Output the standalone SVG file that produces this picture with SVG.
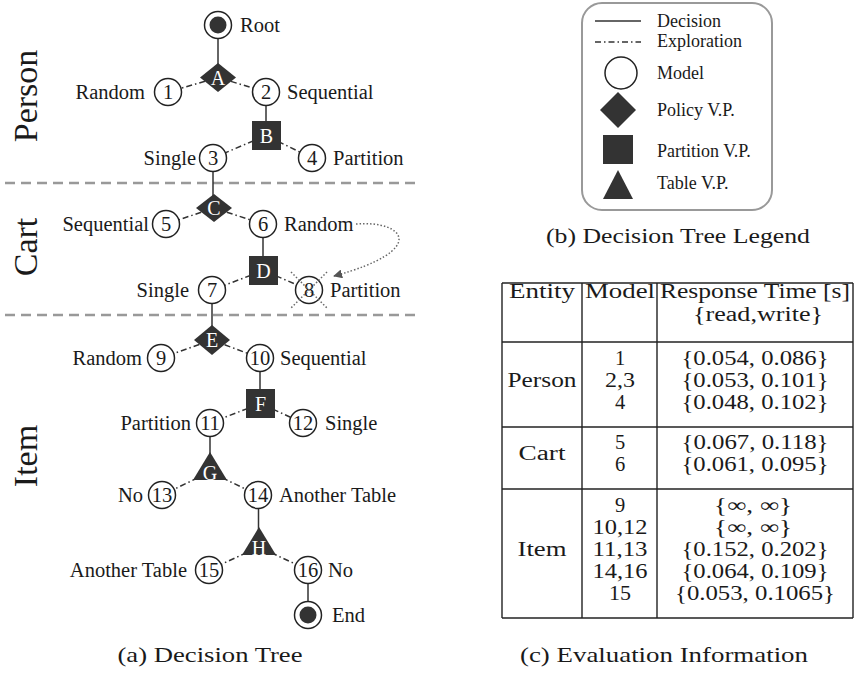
<svg xmlns="http://www.w3.org/2000/svg" width="855" height="676" viewBox="0 0 855 676">
<defs>
<style>
.lbl{font-family:"Liberation Serif","Times New Roman",serif;font-size:20.5px;fill:#1a1a1a}
.s{text-anchor:start}.e{text-anchor:end}.m{text-anchor:middle}
.in{font-family:"Liberation Serif","Times New Roman",serif;font-size:20px;fill:#fff;text-anchor:middle}
.circ{fill:#fff;stroke:#222;stroke-width:1.5}
.dark{fill:#333}
.dd{stroke:#333;stroke-width:1.5;stroke-dasharray:6 3 1.5 3;fill:none}
.sol{stroke:#333;stroke-width:1.5;fill:none}
.sep{stroke:#999;stroke-width:2.5;stroke-dasharray:10 6;fill:none}
.dot{stroke:#666;stroke-width:1.5;stroke-dasharray:1.5 2;fill:none}
.ent{font-family:"Liberation Serif","Times New Roman",serif;font-size:34px;fill:#1a1a1a;text-anchor:middle}
.leg{font-family:"Liberation Serif","Times New Roman",serif;font-size:18px;fill:#1a1a1a}
.tb{font-family:"Liberation Serif","Times New Roman",serif;font-size:20.5px;fill:#1a1a1a;text-anchor:middle}
.cap{font-family:"Liberation Serif","Times New Roman",serif;font-size:22px;fill:#1a1a1a;text-anchor:middle}
.tl{stroke:#222;stroke-width:1.4;fill:none}
</style>
<marker id="ah" viewBox="0 0 10 10" refX="9" refY="5" markerWidth="9" markerHeight="9" markerUnits="userSpaceOnUse" orient="auto">
<path d="M0,0 L10,5 L0,10 z" fill="#555"/>
</marker>
</defs>
<rect width="855" height="676" fill="#fff"/>

<!-- separators and entity labels -->
<g id="separators">
<line class="sep" x1="5" y1="183" x2="415" y2="183"/>
<line class="sep" x1="5" y1="315" x2="415" y2="315"/>
</g>
<g id="entity-labels">
<text class="ent" transform="translate(37,96) rotate(-90)">Person</text>
<text class="ent" transform="translate(37,247) rotate(-90)">Cart</text>
<text class="ent" transform="translate(37,456) rotate(-90)">Item</text>
</g>

<!-- connectors -->
<g id="connectors">
<line class="sol" x1="218" y1="25" x2="218" y2="77"/>
<line class="dd" x1="218" y1="77.5" x2="168" y2="92"/>
<line class="dd" x1="218" y1="77.5" x2="266" y2="92"/>
<line class="sol" x1="266" y1="92" x2="266" y2="135"/>
<line class="dd" x1="266" y1="135.5" x2="213" y2="158"/>
<line class="dd" x1="266" y1="135.5" x2="312" y2="158"/>
<line class="sol" x1="213" y1="158" x2="213" y2="208"/>
<line class="dd" x1="214" y1="208" x2="166" y2="224"/>
<line class="dd" x1="214" y1="208" x2="263" y2="224"/>
<line class="sol" x1="263" y1="224" x2="263" y2="270"/>
<line class="dd" x1="263.5" y1="270.5" x2="212" y2="290"/>
<line class="dd" x1="263.5" y1="270.5" x2="309" y2="290"/>
<line class="sol" x1="212" y1="290" x2="212" y2="340"/>
<line class="dd" x1="212" y1="340" x2="161" y2="358"/>
<line class="dd" x1="212" y1="340" x2="260" y2="358"/>
<line class="sol" x1="260" y1="358" x2="260" y2="403"/>
<line class="dd" x1="260.5" y1="403.5" x2="210" y2="423"/>
<line class="dd" x1="260.5" y1="403.5" x2="303" y2="423"/>
<line class="sol" x1="210" y1="423" x2="210" y2="470"/>
<line class="dd" x1="210" y1="472" x2="162" y2="495"/>
<line class="dd" x1="210" y1="472" x2="258" y2="495"/>
<line class="sol" x1="258.5" y1="495" x2="258.5" y2="545"/>
<line class="dd" x1="259" y1="547" x2="209" y2="570"/>
<line class="dd" x1="259" y1="547" x2="308" y2="570"/>
<line class="sol" x1="308" y1="570" x2="308" y2="615"/>
<path class="dot" d="M356,224 C404,220 430,250 334,276" marker-end="url(#ah)"/>
</g>

<!-- nodes -->
<g id="root"><circle class="circ" cx="218" cy="25" r="13.5"/><circle class="dark" cx="218" cy="25" r="8.5"/><text class="lbl s" x="240" y="32">Root</text></g>
<g id="vpA"><polygon class="dark" points="218,63 236,77.5 218,92 200,77.5"/><text class="in" x="218" y="84.5">A</text></g>
<g id="m1"><circle class="circ" cx="168" cy="92" r="13.5"/><text class="lbl m" x="168" y="99">1</text><text class="lbl e" x="145" y="99">Random</text></g>
<g id="m2"><circle class="circ" cx="266" cy="92" r="13.5"/><text class="lbl m" x="266" y="99">2</text><text class="lbl s" x="287" y="99">Sequential</text></g>
<g id="vpB"><rect class="dark" x="252" y="121" width="29" height="29"/><text class="in" x="266.5" y="142.5">B</text></g>
<g id="m3"><circle class="circ" cx="213" cy="158" r="13.5"/><text class="lbl m" x="213" y="165">3</text><text class="lbl e" x="196" y="165">Single</text></g>
<g id="m4"><circle class="circ" cx="312" cy="158" r="13.5"/><text class="lbl m" x="312" y="165">4</text><text class="lbl s" x="333" y="165">Partition</text></g>
<g id="vpC"><polygon class="dark" points="214,194 232,208 214,222 196,208"/><text class="in" x="214" y="215">C</text></g>
<g id="m5"><circle class="circ" cx="166" cy="224" r="13.5"/><text class="lbl m" x="166" y="231">5</text><text class="lbl e" x="149" y="231">Sequential</text></g>
<g id="m6"><circle class="circ" cx="263" cy="224" r="13.5"/><text class="lbl m" x="263" y="231">6</text><text class="lbl s" x="284" y="231">Random</text></g>
<g id="vpD"><rect class="dark" x="249" y="256" width="29" height="29"/><text class="in" x="263.5" y="277.5">D</text></g>
<g id="m7"><circle class="circ" cx="212" cy="290" r="13.5"/><text class="lbl m" x="212" y="297">7</text><text class="lbl e" x="189" y="297">Single</text></g>
<g id="m8"><circle class="circ" cx="309" cy="290" r="13.5"/><text class="lbl m" x="309" y="297">8</text><text class="lbl s" x="330" y="297">Partition</text>
<line class="dot" x1="291" y1="272" x2="327" y2="308"/><line class="dot" x1="327" y1="272" x2="291" y2="308"/></g>
<g id="vpE"><polygon class="dark" points="212,325 230,340 212,355 194,340"/><text class="in" x="212" y="347">E</text></g>
<g id="m9"><circle class="circ" cx="161" cy="358" r="13.5"/><text class="lbl m" x="161" y="365">9</text><text class="lbl e" x="142" y="365">Random</text></g>
<g id="m10"><circle class="circ" cx="260" cy="358" r="13.5"/><text class="lbl m" x="260" y="365">10</text><text class="lbl s" x="280" y="365">Sequential</text></g>
<g id="vpF"><rect class="dark" x="246" y="389" width="29" height="29"/><text class="in" x="260.5" y="410.5">F</text></g>
<g id="m11"><circle class="circ" cx="210" cy="423" r="13.5"/><text class="lbl m" x="210" y="430">11</text><text class="lbl e" x="191" y="430">Partition</text></g>
<g id="m12"><circle class="circ" cx="303" cy="423" r="13.5"/><text class="lbl m" x="303" y="430">12</text><text class="lbl s" x="325" y="430">Single</text></g>
<g id="vpG"><polygon class="dark" points="210,452 227,480 193,480"/><text class="in" x="210" y="480">G</text></g>
<g id="m13"><circle class="circ" cx="162" cy="495" r="13.5"/><text class="lbl m" x="162" y="502">13</text><text class="lbl e" x="143" y="502">No</text></g>
<g id="m14"><circle class="circ" cx="258" cy="495" r="13.5"/><text class="lbl m" x="258" y="502">14</text><text class="lbl s" x="279" y="502">Another Table</text></g>
<g id="vpH"><polygon class="dark" points="259,527 276,555 242,555"/><text class="in" x="259" y="555">H</text></g>
<g id="m15"><circle class="circ" cx="209" cy="570" r="13.5"/><text class="lbl m" x="209" y="577">15</text><text class="lbl e" x="187" y="577">Another Table</text></g>
<g id="m16"><circle class="circ" cx="308" cy="570" r="13.5"/><text class="lbl m" x="308" y="577">16</text><text class="lbl s" x="328" y="577">No</text></g>
<g id="end"><circle class="circ" cx="308" cy="615" r="13.5"/><circle class="dark" cx="308" cy="615" r="8.5"/><text class="lbl s" x="332" y="622">End</text></g>
<text class="cap" x="210" y="662" textLength="185" lengthAdjust="spacingAndGlyphs">(a) Decision Tree</text>

<!-- legend -->
<g id="legend">
<rect x="582" y="3" width="190" height="207" rx="20" ry="20" fill="#fff" stroke="#999" stroke-width="2"/>
<line class="sol" x1="595" y1="21" x2="641" y2="21"/>
<text class="leg" x="657" y="27">Decision</text>
<line class="dd" x1="595" y1="42" x2="641" y2="42"/>
<text class="leg" x="657" y="47">Exploration</text>
<circle class="circ" cx="621" cy="73" r="16"/>
<text class="leg" x="657" y="79">Model</text>
<polygon class="dark" points="618,92 636,110 618,128 600,110"/>
<text class="leg" x="657" y="116">Policy V.P.</text>
<rect class="dark" x="603" y="135" width="30" height="29"/>
<text class="leg" x="657" y="157">Partition V.P.</text>
<polygon class="dark" points="618,170 633,199 603,199"/>
<text class="leg" x="657" y="189">Table V.P.</text>
</g>
<text class="cap" x="678" y="243" textLength="264" lengthAdjust="spacingAndGlyphs">(b) Decision Tree Legend</text>

<!-- table -->
<g id="table">
<line class="tl" x1="502" y1="283" x2="853" y2="283"/>
<line class="tl" x1="502" y1="342" x2="853" y2="342"/>
<line class="tl" x1="502" y1="427" x2="853" y2="427"/>
<line class="tl" x1="502" y1="489" x2="853" y2="489"/>
<line class="tl" x1="502" y1="618" x2="853" y2="618"/>
<line class="tl" x1="502" y1="283" x2="502" y2="618"/>
<line class="tl" x1="582" y1="283" x2="582" y2="618"/>
<line class="tl" x1="657" y1="283" x2="657" y2="618"/>
<line class="tl" x1="853" y1="283" x2="853" y2="618"/>
<text class="tb" x="542" y="298" textLength="66" lengthAdjust="spacingAndGlyphs">Entity</text>
<text class="tb" x="620" y="298" textLength="70" lengthAdjust="spacingAndGlyphs">Model</text>
<text class="tb" x="755" y="298" textLength="190" lengthAdjust="spacingAndGlyphs">Response Time [s]</text>
<text class="tb" x="758" y="321" textLength="130" lengthAdjust="spacingAndGlyphs">{read,write}</text>
<text class="tb" x="542" y="387" textLength="69" lengthAdjust="spacingAndGlyphs">Person</text>
<text class="tb" x="620" y="365">1</text>
<text class="tb" x="620" y="387" textLength="30" lengthAdjust="spacingAndGlyphs">2,3</text>
<text class="tb" x="620" y="409">4</text>
<text class="tb" x="755" y="365" textLength="147" lengthAdjust="spacingAndGlyphs">{0.054, 0.086}</text>
<text class="tb" x="755" y="387" textLength="147" lengthAdjust="spacingAndGlyphs">{0.053, 0.101}</text>
<text class="tb" x="755" y="409" textLength="147" lengthAdjust="spacingAndGlyphs">{0.048, 0.102}</text>
<text class="tb" x="542" y="460" textLength="47" lengthAdjust="spacingAndGlyphs">Cart</text>
<text class="tb" x="620" y="449">5</text>
<text class="tb" x="620" y="471">6</text>
<text class="tb" x="755" y="449" textLength="147" lengthAdjust="spacingAndGlyphs">{0.067, 0.118}</text>
<text class="tb" x="755" y="471" textLength="147" lengthAdjust="spacingAndGlyphs">{0.061, 0.095}</text>
<text class="tb" x="542" y="556" textLength="49" lengthAdjust="spacingAndGlyphs">Item</text>
<text class="tb" x="620" y="512">9</text>
<text class="tb" x="620" y="534" textLength="55" lengthAdjust="spacingAndGlyphs">10,12</text>
<text class="tb" x="620" y="556" textLength="55" lengthAdjust="spacingAndGlyphs">11,13</text>
<text class="tb" x="620" y="578" textLength="55" lengthAdjust="spacingAndGlyphs">14,16</text>
<text class="tb" x="620" y="600" textLength="22" lengthAdjust="spacingAndGlyphs">15</text>
<text class="tb" x="753" y="512" textLength="78" lengthAdjust="spacingAndGlyphs">{∞, ∞}</text>
<text class="tb" x="753" y="534" textLength="78" lengthAdjust="spacingAndGlyphs">{∞, ∞}</text>
<text class="tb" x="755" y="556" textLength="147" lengthAdjust="spacingAndGlyphs">{0.152, 0.202}</text>
<text class="tb" x="755" y="578" textLength="147" lengthAdjust="spacingAndGlyphs">{0.064, 0.109}</text>
<text class="tb" x="755" y="600" textLength="160" lengthAdjust="spacingAndGlyphs">{0.053, 0.1065}</text>
</g>
<text class="cap" x="664" y="662" textLength="288" lengthAdjust="spacingAndGlyphs">(c) Evaluation Information</text>
</svg>
